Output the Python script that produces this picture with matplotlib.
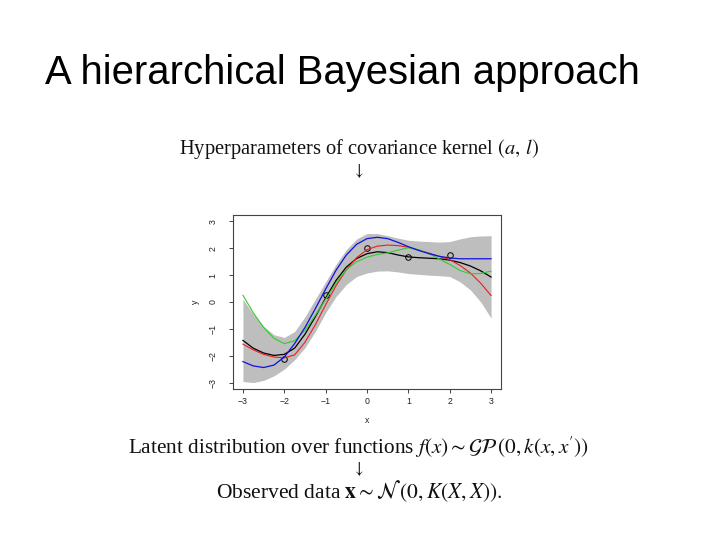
import numpy as np
import matplotlib
matplotlib.use("Agg")
import matplotlib.pyplot as plt

plt.rcParams['mathtext.fontset'] = 'stix'

# grid of x values
xs = [-3, -2.75, -2.5, -2.25, -2, -1.75, -1.5, -1.25, -1, -0.75, -0.5, -0.25,
      0, 0.25, 0.5, 0.75, 1, 1.25, 1.5, 1.75, 2, 2.25, 2.5, 2.75, 3]

# posterior mean (black)
mean_y = [-1.43, -1.72, -1.9, -1.99, -1.95, -1.72, -1.2, -0.55, 0.15, 0.8, 1.3, 1.62,
          1.8, 1.87, 1.84, 1.75, 1.68, 1.65, 1.63, 1.61, 1.56, 1.47, 1.34, 1.16, 0.93]
# sampled functions
red_y = [-1.57, -1.78, -1.95, -2.05, -2.08, -1.97, -1.5, -0.85, -0.1, 0.6, 1.2, 1.65,
         1.95, 2.08, 2.12, 2.1, 2.04, 1.93, 1.82, 1.7, 1.58, 1.36, 1.08, 0.7, 0.24]
blue_y = [-2.22, -2.38, -2.44, -2.35, -2.05, -1.55, -0.95, -0.25, 0.48, 1.18, 1.75, 2.15,
          2.36, 2.41, 2.36, 2.22, 2.06, 1.92, 1.8, 1.7, 1.64, 1.61, 1.61, 1.61, 1.61]
green_y = [0.25, -0.4, -0.95, -1.35, -1.55, -1.45, -1.05, -0.5, 0.1, 0.7, 1.2, 1.5,
           1.67, 1.77, 1.83, 1.93, 2.02, 1.95, 1.8, 1.6, 1.4, 1.17, 1.05, 1.06, 1.15]
# grey confidence band
upper_y = [0.1, -0.45, -0.9, -1.22, -1.32, -1.1, -0.55, 0.1, 0.75, 1.4, 1.95, 2.35,
           2.55, 2.55, 2.47, 2.38, 2.3, 2.27, 2.25, 2.23, 2.25, 2.35, 2.43, 2.46, 2.47]
lower_y = [-2.96, -3.0, -2.92, -2.75, -2.5, -2.15, -1.7, -1.1, -0.4, 0.2, 0.65, 0.95,
           1.08, 1.15, 1.16, 1.12, 1.06, 1.03, 1.0, 0.98, 0.95, 0.75, 0.45, 0.0, -0.6]

# observations
obs_x = [-2, -1, 0, 1, 2]
obs_y = [-2.13, 0.27, 2.02, 1.66, 1.75]

ticks = [-3, -2, -1, 0, 1, 2, 3]

fig = plt.figure(figsize=(7.2, 5.4), dpi=100)
fig.patch.set_facecolor('white')

# slide title
fig.text(45 / 720, 1 - 84 / 540, "A hierarchical Bayesian approach",
         family='Liberation Sans', fontsize=28.8, ha='left', va='baseline')

# latex-ish captions
serif = dict(family='Liberation Serif', ha='center', va='center', color='#111111')
fig.text(358.5 / 720, 1 - 149 / 540,
         r"Hyperparameters of covariance kernel $(a,\,l)$", fontsize=14.8, **serif)
fig.text(358 / 720, 1 - 171 / 540, r"$\downarrow$", fontsize=12, **serif)
fig.text(359 / 720, 1 - 447 / 540,
         r"Latent distribution over functions $f(x)\sim\mathcal{GP}\,(0,k(x,x^{\prime}))$",
         fontsize=15.3, **serif)
fig.text(358 / 720, 1 - 469 / 540, r"$\downarrow$", fontsize=12, **serif)
fig.text(359 / 720, 1 - 491 / 540,
         r"Observed data $\mathbf{x}\sim\mathcal{N}\,(0,K(X,X)).$", fontsize=15.5, **serif)

# the R style plot
ax = fig.add_axes([233 / 720, 1 - 389 / 540, 268 / 720, 174 / 540])
ax.fill_between(xs, lower_y, upper_y, color='#bebebe', lw=0)
ax.plot(obs_x, obs_y, 'o', mfc='none', mec='black', ms=4, mew=0.7)
ax.plot(xs, mean_y, color='black', lw=0.9)
ax.plot(xs, red_y, color='#e82020', lw=0.8)
ax.plot(xs, green_y, color='#33cc33', lw=0.8)
ax.plot(xs, blue_y, color='#1010e0', lw=0.9)

ax.set_xlim(-3.24, 3.24)
ax.set_ylim(-3.24, 3.24)
ax.set_xticks(ticks)
ax.set_yticks(ticks)
ax.set_xticklabels([str(t).replace('-', '\u2212') for t in ticks])
ax.set_yticklabels([str(t).replace('-', '\u2212') for t in ticks], rotation=90, va='center')
for s in ax.spines.values():
    s.set_color('#444444')
    s.set_linewidth(0.8)
ax.tick_params(axis='both', direction='out', length=3, width=0.7, color='#444444',
               labelsize=6.3, labelcolor='#222222')
ax.tick_params(axis='x', pad=3)
ax.tick_params(axis='y', pad=8)
for lab in ax.get_xticklabels() + ax.get_yticklabels():
    lab.set_family('Liberation Sans')
ax.set_xlabel('x', family='Liberation Sans', fontsize=6.3, color='#222222', labelpad=7)
ax.set_ylabel('y', family='Liberation Sans', fontsize=6.3, color='#222222', labelpad=6)

fig.savefig('out.png', dpi=100)
